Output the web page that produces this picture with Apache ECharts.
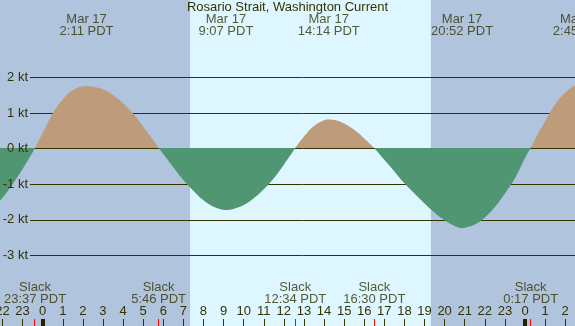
<!DOCTYPE html>
<html>
<head>
<meta charset="utf-8">
<script src="https://cdn.jsdelivr.net/npm/echarts@6/dist/echarts.min.js"></script>
<style>
html,body{margin:0;padding:0;background:#b0c4de;}
#c{width:575px;height:326px;}
</style>
</head>
<body>
<div id="c"></div>
<script>
// ---- data (hours since Mar 17 00:00 PDT) ----
const title = 'Rosario Strait, Washington Current';
const curHours = [-2.5,-2.0,-1.5,-1.0,-0.5,-0.38,0.0,0.5,1.0,1.5,2.18,2.5,3.0,3.5,4.0,4.5,5.0,5.5,5.77,6.0,6.5,7.0,7.5,8.0,8.5,9.12,9.5,10.0,10.5,11.0,11.5,12.0,12.57,13.0,13.5,14.0,14.23,14.5,15.0,15.5,16.0,16.5,17.0,17.5,18.0,18.5,19.0,19.5,20.0,20.5,20.87,21.0,21.5,22.0,22.5,23.0,23.5,24.0,24.28,24.5,25.0,25.5,26.0,26.5,27.0];
const curKnots = [-1.69,-1.40,-1.02,-0.59,-0.12,0,0.42,0.97,1.36,1.62,1.74,1.72,1.65,1.49,1.26,0.97,0.60,0.22,0,-0.17,-0.54,-0.90,-1.20,-1.47,-1.65,-1.74,-1.71,-1.60,-1.41,-1.16,-0.85,-0.47,0,0.32,0.62,0.78,0.80,0.79,0.69,0.51,0.27,0,-0.33,-0.66,-0.99,-1.28,-1.56,-1.82,-2.03,-2.19,-2.25,-2.24,-2.15,-1.95,-1.66,-1.28,-0.85,-0.28,0,0.24,0.75,1.22,1.55,1.76,1.80];
const maxDates = ['Mar 17','Mar 17','Mar 17','Mar 17','Mar 18'];
const maxTimes = ['2:11','9:07','14:14','20:52','2:45'];
const maxDays = [0,0,0,0,1];
const slackTimes = ['23:37','5:46','12:34','16:30','0:17'];
const slackDays = [-1,0,0,0,1];
const sunTimes = ['7:20','19:19'];
const midnightHours = [0,24];
const knotTicks = [-3,-2,-1,0,1,2];

// ---- helpers ----
function toHour(s, day){ const p = s.split(':').map(Number); return day*24 + p[0] + p[1]/60; }
const TXT = '#333300';
const FONT = '"Liberation Sans", Arial, sans-serif';
const W = 575, H = 326;
const PX_PER_H = 20.096, X0 = 42.7;       // pixel of hour 0
const PX_PER_KT = 35.6, Y0 = 148.0;       // pixel of 0 kt
const XMIN = -3, XMAX = 27, YMIN = -5, YMAX = 5;
const gridLeft = X0 + XMIN*PX_PER_H;
const gridWidth = (XMAX-XMIN)*PX_PER_H;
const gridTop = Y0 - YMAX*PX_PER_KT;
const gridHeight = (YMAX-YMIN)*PX_PER_KT;
const TOP_V = Y0/PX_PER_KT;               // value at canvas top
const BOT_V = -(H-Y0)/PX_PER_KT;          // value at canvas bottom

const floodData = curHours.map((h,i)=>[h, curKnots[i] >= 0 ? curKnots[i] : null]);
const ebbData = curHours.map((h,i)=>[h, curKnots[i] <= 0 ? curKnots[i] : null]);
const maxData = maxTimes.map((t,i)=>({value:[toHour(t,maxDays[i]), TOP_V], name: maxDates[i] + '\n' + t + ' PDT'}));
const slackHours = slackTimes.map((t,i)=>toHour(t,slackDays[i]));
const slackData = slackTimes.map((t,i)=>({value:[slackHours[i], BOT_V], name: 'Slack\n' + t + ' PDT'}));
const sunrise = toHour(sunTimes[0],0), sunset = toHour(sunTimes[1],0);

function tickSeries(hours, color, width){
  return {type:'custom', xAxisIndex:0, yAxisIndex:0, silent:true, z:5, clip:false,
    data: hours.map(h=>[h]),
    renderItem:(params, api)=>{
      const p = api.coord([api.value(0), 0]);
      const x = width % 2 ? Math.round(p[0]-0.5)+0.5 : Math.round(p[0]);
      return {type:'line', shape:{x1:x, y1:H-7, x2:x, y2:H},
        style:{stroke:color, lineWidth:width}};
    }};
}
function areaSeries(data, color){
  return {type:'line', xAxisIndex:0, yAxisIndex:0, data:data, smooth:0.4, showSymbol:false,
    connectNulls:false, lineStyle:{width:0, opacity:0},
    itemStyle:{color:color}, areaStyle:{opacity:1, color:color, origin:0}, z:2, silent:true};
}

const chart = echarts.init(document.getElementById('c'), null, {renderer:'canvas', width:W, height:H});
const flood = areaSeries(floodData, '#bd9b7b');
flood.markArea = {silent:true, z:-1, itemStyle:{color:'#ddf6ff'},
  data:[[{xAxis:sunrise},{xAxis:sunset}]]};
const kMin = knotTicks[0], kMax = knotTicks[knotTicks.length-1];
chart.setOption({
  backgroundColor:'#b0c4de',
  animation:false,
  textStyle:{fontFamily:FONT},
  title:{text:title, left:'center', top:0, padding:[1,0,0,0],
    textStyle:{fontSize:13, fontWeight:'normal', color:TXT, fontFamily:FONT}},
  grid:[
    {left:gridLeft, top:gridTop, width:gridWidth, height:gridHeight, containLabel:false, outerBoundsMode:'none'},
    {left:30, right:0, top:77.5, height:178, containLabel:false, outerBoundsMode:'none'}
  ],
  xAxis:[
    {type:'value', gridIndex:0, min:XMIN, max:XMAX, interval:1, position:'bottom',
      axisLine:{show:false, onZero:false}, splitLine:{show:false},
      axisTick:{show:true, inside:true, length:7, lineStyle:{color:TXT, width:1}},
      axisLabel:{show:true, inside:true, margin:8, color:TXT, fontSize:13, fontFamily:FONT,
        showMinLabel:true, showMaxLabel:true,
        formatter:(v)=>String(((Math.round(v)%24)+24)%24)}},
    {type:'value', gridIndex:1, min:XMIN, max:XMAX, show:false, axisLine:{onZero:false}}
  ],
  yAxis:[
    {type:'value', gridIndex:0, min:YMIN, max:YMAX, show:false, splitLine:{show:false}},
    {type:'value', gridIndex:1, min:kMin, max:kMax, interval:1, z:0,
      axisLine:{show:false}, axisTick:{show:false}, axisLabel:{show:false},
      splitLine:{show:true, lineStyle:{color:TXT, width:1}}},
    {type:'value', gridIndex:1, min:kMin, max:kMax, interval:1, z:10, position:'left',
      axisLine:{show:false}, axisTick:{show:false}, splitLine:{show:false},
      axisLabel:{show:true, margin:2, color:TXT, fontSize:13, fontFamily:FONT, formatter:'{value} kt'}}
  ],
  series:[
    flood,
    areaSeries(ebbData, '#519673'),
    {type:'scatter', xAxisIndex:0, yAxisIndex:0, data:maxData, symbolSize:0, clip:false, silent:true,
      label:{show:true, position:'bottom', distance:13, formatter:(p)=>p.name, color:TXT, fontSize:13,
        lineHeight:12, fontFamily:FONT, align:'center'}},
    {type:'scatter', xAxisIndex:0, yAxisIndex:0, data:slackData, symbolSize:0, clip:false, silent:true,
      label:{show:true, position:'top', distance:21, formatter:(p)=>p.name, color:TXT, fontSize:13,
        lineHeight:12, fontFamily:FONT, align:'center'}},
    tickSeries(midnightHours, '#222200', 4),
    tickSeries(slackHours, '#ff0000', 1)
  ]
});
</script>
</body>
</html>
